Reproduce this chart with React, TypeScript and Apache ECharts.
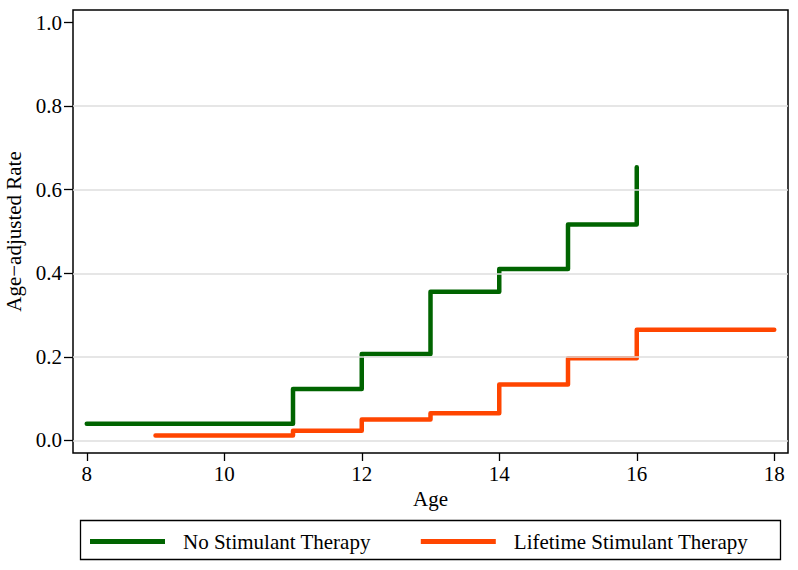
import React, { useEffect, useRef } from "react";
import * as echarts from "echarts";

const ageNoStim = [8, 11, 12, 13, 14, 15, 16];
const rateNoStim = [0.04, 0.123, 0.207, 0.356, 0.41, 0.517, 0.654];
const ageLifetime = [9, 11, 12, 13, 14, 15, 16, 18];
const rateLifetime = [0.012, 0.023, 0.05, 0.065, 0.134, 0.197, 0.265, 0.265];
const xTicks = [8, 10, 12, 14, 16, 18];
const yTicks = [0, 0.2, 0.4, 0.6, 0.8, 1.0];
const gridValues = [0, 0.2, 0.4, 0.6, 0.8];
const seriesNames = ["No Stimulant Therapy", "Lifetime Stimulant Therapy"];

const FONT = "Liberation Serif";
const FS = 21;

export default function App() {
  const ref = useRef<HTMLDivElement>(null);
  useEffect(() => {
    if (!ref.current) return;
    const chart = echarts.init(ref.current, null, { renderer: "svg" });
    chart.setOption({
      animation: false,
      backgroundColor: "#ffffff",
      textStyle: { fontFamily: FONT, color: "#000" },
      grid: {
        left: 73,
        right: 10,
        top: 10,
        bottom: 117,
        containLabel: false,
        outerBoundsMode: "none",
        show: true,
        borderColor: "#000",
        borderWidth: 1.5,
        backgroundColor: "transparent",
      },
      xAxis: {
        type: "value",
        min: 7.8,
        max: 18.2,
        name: "Age",
        nameLocation: "middle",
        nameGap: 34,
        nameTextStyle: { fontFamily: FONT, fontSize: FS, color: "#000" },
        axisLine: { show: false, onZero: false },
        axisTick: {
          show: true,
          length: 8,
          customValues: xTicks,
          lineStyle: { color: "#000", width: 1.3 },
        },
        axisLabel: {
          customValues: xTicks,
          margin: 10,
          fontFamily: FONT,
          fontSize: FS,
          color: "#000",
        },
        splitLine: { show: false },
      },
      yAxis: {
        type: "value",
        min: -0.03,
        max: 1.03,
        name: "Age\u2212adjusted Rate",
        nameLocation: "middle",
        nameGap: 44,
        nameTextStyle: { fontFamily: FONT, fontSize: FS, color: "#000" },
        axisLine: { show: false, onZero: false },
        axisTick: {
          show: true,
          length: 9,
          customValues: yTicks,
          lineStyle: { color: "#000", width: 1.3 },
        },
        axisLabel: {
          customValues: yTicks,
          margin: 11,
          fontFamily: FONT,
          fontSize: FS,
          color: "#000",
          formatter: (v: number) => v.toFixed(1),
        },
        splitLine: { show: false },
      },
      legend: {
        left: 90,
        top: 531,
        padding: 0,
        data: seriesNames,
        icon: "rect",
        itemWidth: 75,
        itemHeight: 5,
        itemGap: 50,
        textStyle: {
          fontFamily: FONT,
          fontSize: FS,
          color: "#000",
          padding: [0, 0, 0, 13],
        },
      },
      graphic: [
        {
          type: "rect",
          shape: { x: 80.5, y: 520.5, width: 700, height: 39 },
          style: { fill: "none", stroke: "#000", lineWidth: 1.3 },
          silent: true,
        },
      ],
      series: [
        {
          name: "grid",
          type: "line",
          data: [],
          silent: true,
          z: 1,
          markLine: {
            silent: true,
            symbol: "none",
            label: { show: false },
            lineStyle: { color: "#dedede", width: 1.5, type: "solid" },
            data: gridValues.map((v) => ({ yAxis: v })),
          },
        },
        {
          name: seriesNames[0],
          type: "line",
          step: "end",
          showSymbol: false,
          symbol: "none",
          z: 3,
          color: "#006400",
          lineStyle: { color: "#006400", width: 4.5, cap: "round", join: "round" },
          data: ageNoStim.map((a, i) => [a, rateNoStim[i]]),
        },
        {
          name: seriesNames[1],
          type: "line",
          step: "end",
          showSymbol: false,
          symbol: "none",
          z: 3,
          color: "#ff4500",
          lineStyle: { color: "#ff4500", width: 4.5, cap: "round", join: "round" },
          data: ageLifetime.map((a, i) => [a, rateLifetime[i]]),
        },
      ],
    });
    return () => chart.dispose();
  }, []);
  return (
    <div
      ref={ref}
      style={{ position: "fixed", left: 0, top: 0, width: 798, height: 570 }}
    />
  );
}
